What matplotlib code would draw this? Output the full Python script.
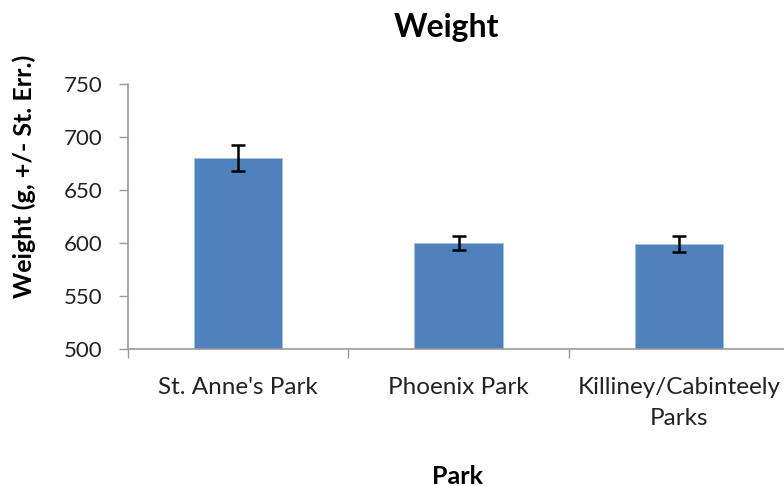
import matplotlib.pyplot as plt
import numpy as np

parks = ["St. Anne's Park", "Phoenix Park", "Killiney/Cabinteely\nParks"]
weights = [680, 600, 599]
errors = [12, 7, 7.5]

plt.rcParams['font.family'] = ['Lato', 'DejaVu Sans']

fig = plt.figure(figsize=(7.84, 4.86), dpi=100)
# plot area in pixels: x 128..789, y 84..349
ax = fig.add_axes([128 / 784, 1 - 349 / 486, 661 / 784, 265 / 486])

x = np.arange(len(parks))
ax.bar(x, weights, width=0.40, color='#4F81BD', edgecolor='#A7BFDE', linewidth=0.6)
ax.errorbar(x, weights, yerr=errors, fmt='none', ecolor='black', elinewidth=1.8,
            capsize=4.7, capthick=1.8)

ax.set_xlim(-0.5, 2.5)
ax.set_ylim(500, 750)
ax.set_yticks(np.arange(500, 751, 50))
ax.set_xticks(x)
ax.set_xticklabels(parks, fontsize=17.5, color='#222222', linespacing=1.6)
ax.set_xticks([-0.5, 0.5, 1.5, 2.5], minor=True)
ax.tick_params(axis='x', which='major', length=0, pad=20)
ax.tick_params(axis='x', which='minor', length=6.5, width=1, color='#999999', direction='out')
ax.tick_params(axis='y', length=6.5, width=1, color='#999999', direction='out', labelsize=16,
               labelcolor='#222222', pad=12)

for s in ['top', 'right']:
    ax.spines[s].set_visible(False)
for s in ['left', 'bottom']:
    ax.spines[s].set_color('#999999')
    ax.spines[s].set_linewidth(1.2)

fig.text(446 / 784, 1 - 27 / 486, "Weight", fontsize=23, fontweight='bold',
         ha='center', va='center')
fig.text(457 / 784, 1 - 476 / 486, "Park", fontsize=18, fontweight='bold',
         ha='center', va='center')
fig.text(24 / 784, 1 - 176 / 486, "Weight (g, +/- St. Err.)", fontsize=18,
         fontweight='bold', rotation=90, ha='center', va='center')

plt.savefig("out.png")
